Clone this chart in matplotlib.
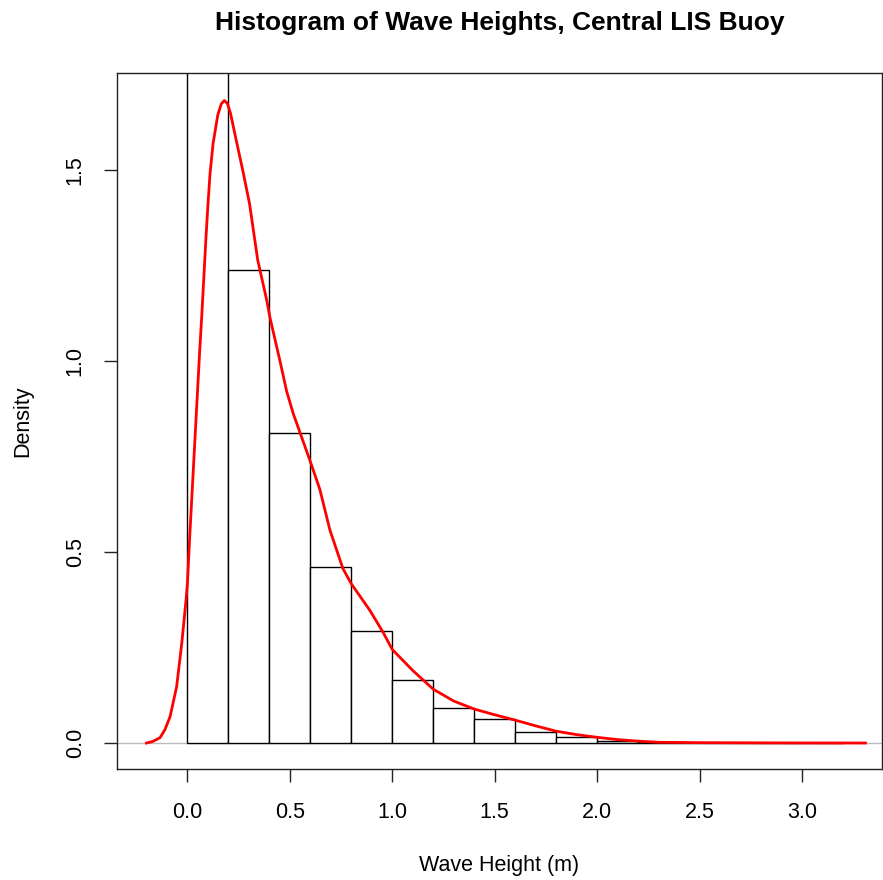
import numpy as np
import matplotlib
matplotlib.use("Agg")
import matplotlib.pyplot as plt

plt.rcParams['font.family'] = ['Liberation Sans', 'DejaVu Sans']

# histogram (density scale), breaks every 0.2 m
breaks = [0.0, 0.2, 0.4, 0.6, 0.8, 1.0, 1.2, 1.4, 1.6, 1.8, 2.0, 2.2,
          2.4, 2.6, 2.8, 3.0, 3.2]
bar_density = [1.82, 1.24, 0.812, 0.46, 0.294, 0.165, 0.091, 0.062, 0.030,
               0.015, 0.006, 0.002, 0.001, 0.0005, 0.0003, 0.0002]

# kernel density estimate
dens_x = [-0.2, -0.17, -0.134, -0.11, -0.085, -0.053, -0.028, -0.007, 0.0,
          0.01, 0.02, 0.03, 0.04, 0.05, 0.06, 0.07, 0.08, 0.09, 0.1, 0.11,
          0.125, 0.148, 0.165, 0.18, 0.195, 0.21, 0.238, 0.27, 0.303, 0.343,
          0.387, 0.403, 0.452, 0.484, 0.517, 0.549, 0.598, 0.646, 0.696,
          0.759, 0.8, 0.89, 0.954, 1.0, 1.1, 1.2, 1.3, 1.4, 1.5, 1.6, 1.7,
          1.8, 1.9, 2.0, 2.1, 2.2, 2.3, 2.5, 2.8, 3.0, 3.31]
dens_y = [0.0, 0.004, 0.014, 0.035, 0.069, 0.147, 0.26, 0.374, 0.42,
          0.53, 0.63, 0.73, 0.83, 0.93, 1.03, 1.12, 1.22, 1.32, 1.41, 1.49,
          1.57, 1.645, 1.674, 1.683, 1.675, 1.65, 1.579, 1.50, 1.413, 1.265,
          1.16, 1.114, 1.0, 0.922, 0.862, 0.814, 0.74, 0.665, 0.557,
          0.457, 0.417, 0.348, 0.291, 0.245, 0.19, 0.141, 0.11, 0.089, 0.074,
          0.06, 0.045, 0.031, 0.022, 0.015, 0.009, 0.005, 0.002, 0.001,
          0.0005, 0.0002, 0.0]

xticks = [0.0, 0.5, 1.0, 1.5, 2.0, 2.5, 3.0]
yticks = [0.0, 0.5, 1.0, 1.5]

fig = plt.figure(figsize=(8.83, 8.8), dpi=100)
ax = fig.add_axes([117/883, 1 - 769/880, 765/883, 696/880])

ax.axhline(0, color='#BEBEBE', lw=1, zorder=1)
widths = np.diff(breaks)
ax.bar(breaks[:-1], bar_density, width=widths, align='edge',
       facecolor='white', edgecolor='black', lw=1, zorder=2)
ax.plot(dens_x, dens_y, color='red', lw=2, zorder=3)

ax.set_xlim(-0.344, 3.391)
ax.set_ylim(-0.068, 1.755)
ax.set_xticks(xticks)
ax.set_xticklabels(['%.1f' % t for t in xticks])
ax.set_yticks(yticks)
ax.set_yticklabels(['%.1f' % t for t in yticks], rotation=90, va='center')
ax.tick_params(direction='out', length=9.5, width=1, labelsize=15.5,
               colors='#222222', labelcolor='black')
ax.tick_params(axis='x', pad=14)
ax.tick_params(axis='y', pad=13)
for s in ax.spines.values():
    s.set_linewidth(1)
    s.set_color('#222222')

ax.set_title('Histogram of Wave Heights, Central LIS Buoy',
             fontsize=19, fontweight='bold', pad=31)
ax.set_xlabel('Wave Height (m)', fontsize=15.5, labelpad=23)
ax.set_ylabel('Density', fontsize=15.5, labelpad=23)

fig.savefig('out.png', dpi=100)
